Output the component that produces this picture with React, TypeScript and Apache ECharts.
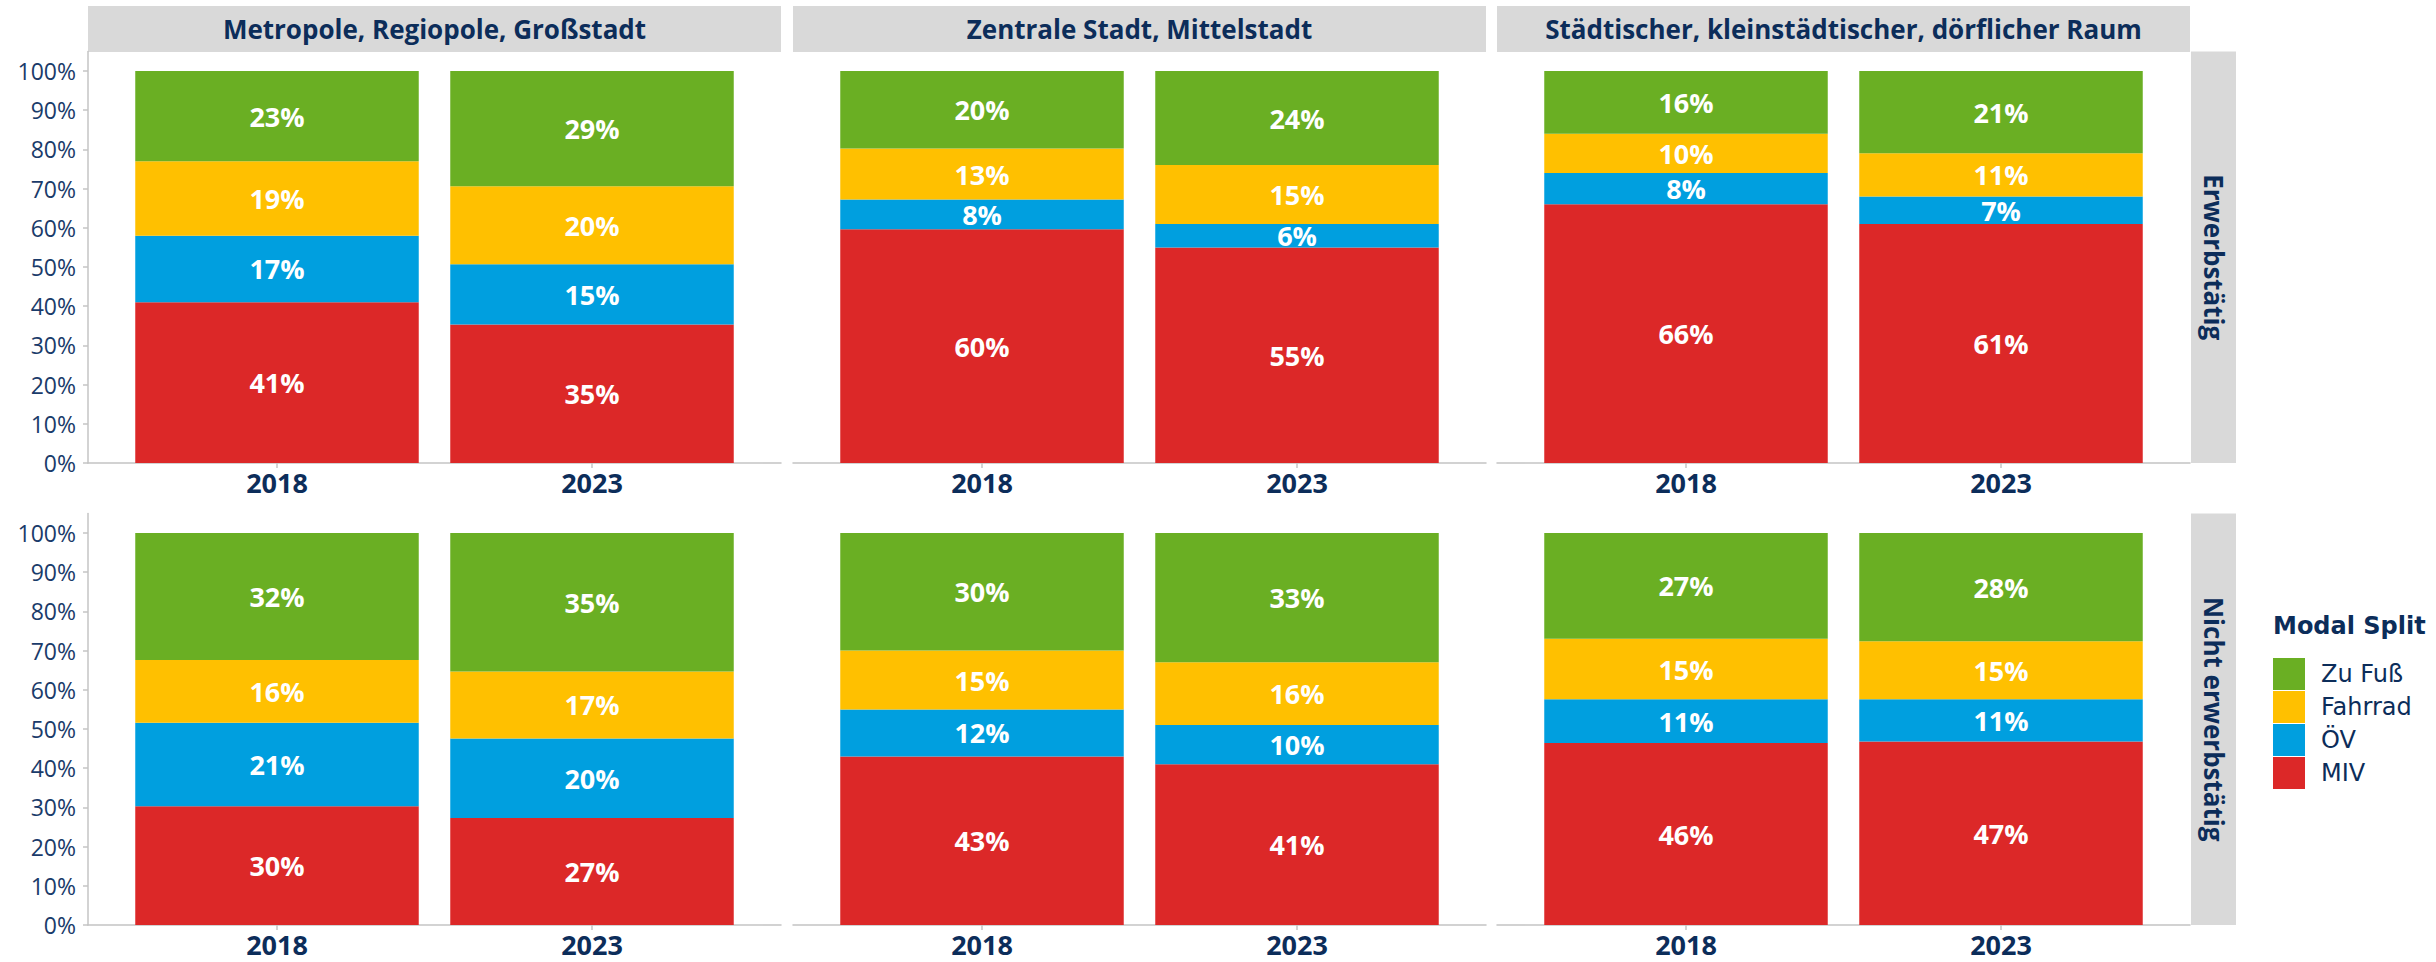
import React, { useEffect, useRef } from "react";
import * as echarts from "echarts";

// ---- data ----
const years = ["2018", "2023"];
const regions = [
  "Metropole, Regiopole, Großstadt",
  "Zentrale Stadt, Mittelstadt",
  "Städtischer, kleinstädtischer, dörflicher Raum",
];
const groups = ["Erwerbstätig", "Nicht erwerbstätig"];
const modes = ["MIV", "ÖV", "Fahrrad", "Zu Fuß"];
const legendOrder = ["Zu Fuß", "Fahrrad", "ÖV", "MIV"];
const yTicks = [0, 10, 20, 30, 40, 50, 60, 70, 80, 90, 100];

// values per region x year (Metropole 2018, 2023, Zentrale 2018, 2023, Städtisch 2018, 2023), in %
const erwMIV = [41, 35.3, 59.6, 55, 66, 61];
const erwOEV = [17, 15.4, 7.6, 6, 8, 7];
const erwRad = [19, 19.9, 13.0, 15, 10, 11];
const erwFuss = [23, 29.4, 19.8, 24, 16, 21];

const nichtMIV = [30.3, 27.3, 43, 41, 46.4, 46.8];
const nichtOEV = [21.3, 20.3, 12, 10, 11.2, 10.8];
const nichtRad = [16.0, 17.1, 15, 16, 15.4, 14.8];
const nichtFuss = [32.4, 35.3, 30, 33, 27.0, 27.6];

const groupData = [
  [erwMIV, erwOEV, erwRad, erwFuss],
  [nichtMIV, nichtOEV, nichtRad, nichtFuss],
];

// ---- styles ----
const modeColors: Record<string, string> = {
  MIV: "#DC2828",
  "ÖV": "#009FDF",
  Fahrrad: "#FFC000",
  "Zu Fuß": "#6AAF23",
};
const NAVY = "#0c2d5a";
const AXIS_GRAY = "#c4c4c4";
const STRIP_GRAY = "#d9d9d9";
const FONT = "'Open Sans', sans-serif";
const LEGEND_FONT = "'DejaVu Sans', sans-serif";

const colLeft = [88, 793, 1497];
const colWidth = 693;
const unitW = colWidth / 2.2; // one category step
const rowZero = [463, 925];
const unitH = 392; // px per 100%
const yMax = 105;

export default function App() {
  const ref = useRef<HTMLDivElement>(null);

  useEffect(() => {
    if (!ref.current) return;
    const chart = echarts.init(ref.current, undefined, { renderer: "svg" });

    const grids: any[] = [];
    const xAxes: any[] = [];
    const yAxes: any[] = [];
    const series: any[] = [];
    const graphics: any[] = [];
    const h = (yMax / 100) * unitH;

    // frame grids (axis lines + y labels), indices 0..5
    groups.forEach((g, gi) => {
      regions.forEach((r, ri) => {
        const idx = grids.length;
        grids.push({ left: colLeft[ri], width: colWidth, top: rowZero[gi] - h, height: h });
        xAxes.push({
          type: "value",
          gridIndex: idx,
          min: 0,
          max: 1,
          splitLine: { show: false },
          axisLine: { show: true, onZero: false, lineStyle: { color: AXIS_GRAY, width: 1.5 } },
          axisTick: { show: false },
          axisLabel: { show: false },
        });
        const showY = ri === 0;
        yAxes.push({
          type: "value",
          gridIndex: idx,
          min: 0,
          max: yMax,
          splitLine: { show: false },
          axisLine: { show: showY, lineStyle: { color: AXIS_GRAY, width: 1.5 } },
          axisTick: {
            show: showY,
            length: 5,
            customValues: yTicks,
            lineStyle: { color: AXIS_GRAY, width: 1.5 },
          },
          axisLabel: {
            show: showY,
            customValues: yTicks,
            formatter: (v: number) => `${v}%`,
            margin: 12,
            fontFamily: FONT,
            fontSize: 23,
            color: "#1a3b6a",
          },
        });
      });
    });

    // bar grids, indices 6..11
    groups.forEach((g, gi) => {
      regions.forEach((r, ri) => {
        const idx = grids.length;
        grids.push({
          left: colLeft[ri] + 0.1 * unitW,
          width: 2 * unitW,
          top: rowZero[gi] - h,
          height: h,
        });
        xAxes.push({
          type: "category",
          gridIndex: idx,
          data: years,
          axisLine: { show: false },
          axisTick: {
            show: true,
            alignWithLabel: true,
            length: 5,
            lineStyle: { color: AXIS_GRAY, width: 1.5 },
          },
          axisLabel: {
            show: true,
            margin: 6,
            fontFamily: FONT,
            fontWeight: "bold",
            fontSize: 27,
            color: NAVY,
          },
        });
        yAxes.push({
          type: "value",
          gridIndex: idx,
          min: 0,
          max: yMax,
          show: false,
          splitLine: { show: false },
        });
        modes.forEach((m, mi) => {
          const arr = groupData[gi][mi];
          series.push({
            type: "bar",
            name: m,
            xAxisIndex: idx,
            yAxisIndex: idx,
            stack: "s" + idx,
            barWidth: "90%",
            data: years.map((y, yi) => arr[ri * 2 + yi]),
            itemStyle: { color: modeColors[m] },
            label: {
              show: true,
              position: "inside",
              formatter: (p: any) => `${Math.round(p.value)}%`,
              color: "#ffffff",
              fontFamily: FONT,
              fontWeight: "bold",
              fontSize: 27,
            },
          });
        });
      });
    });

    // column header strips
    regions.forEach((r, ri) => {
      graphics.push({
        type: "rect",
        shape: { x: colLeft[ri], y: 6, width: colWidth, height: 46 },
        style: { fill: STRIP_GRAY },
        silent: true,
      });
      graphics.push({
        type: "text",
        x: colLeft[ri] + colWidth / 2,
        y: 29,
        style: {
          text: r,
          align: "center",
          verticalAlign: "middle",
          fill: NAVY,
          fontFamily: FONT,
          fontWeight: "bold",
          fontSize: 26,
        },
        silent: true,
      });
    });

    // row strips
    groups.forEach((g, gi) => {
      const top = rowZero[gi] - h;
      const bottom = rowZero[gi];
      graphics.push({
        type: "rect",
        shape: { x: 2191, y: top, width: 45, height: bottom - top },
        style: { fill: STRIP_GRAY },
        silent: true,
      });
      graphics.push({
        type: "text",
        x: 2213.5,
        y: (top + bottom) / 2,
        rotation: -Math.PI / 2,
        style: {
          text: g,
          align: "center",
          verticalAlign: "middle",
          fill: NAVY,
          fontFamily: FONT,
          fontWeight: "bold",
          fontSize: 26,
        },
        silent: true,
      });
    });

    // legend title
    graphics.push({
      type: "text",
      x: 2273,
      y: 626,
      style: {
        text: "Modal Split",
        align: "left",
        verticalAlign: "middle",
        fill: NAVY,
        fontFamily: LEGEND_FONT,
        fontWeight: "bold",
        fontSize: 24,
      },
      silent: true,
    });

    chart.setOption({
      animation: false,
      backgroundColor: "#ffffff",
      grid: grids,
      xAxis: xAxes,
      yAxis: yAxes,
      series,
      legend: {
        data: legendOrder,
        orient: "vertical",
        left: 2273,
        top: 658,
        padding: 0,
        itemWidth: 32,
        itemHeight: 32,
        itemGap: 1,
        icon: "rect",
        selectedMode: false,
        formatter: (name: string) => `{t|${name}}`,
        textStyle: {
          rich: {
            t: {
              fontFamily: LEGEND_FONT,
              fontSize: 24,
              color: NAVY,
              padding: [0, 0, 0, 11],
            },
          },
        },
      },
      graphic: graphics,
    });

    return () => chart.dispose();
  }, []);

  return (
    <div
      ref={ref}
      style={{ position: "fixed", left: 0, top: 0, width: 2436, height: 962, background: "#fff" }}
    />
  );
}
